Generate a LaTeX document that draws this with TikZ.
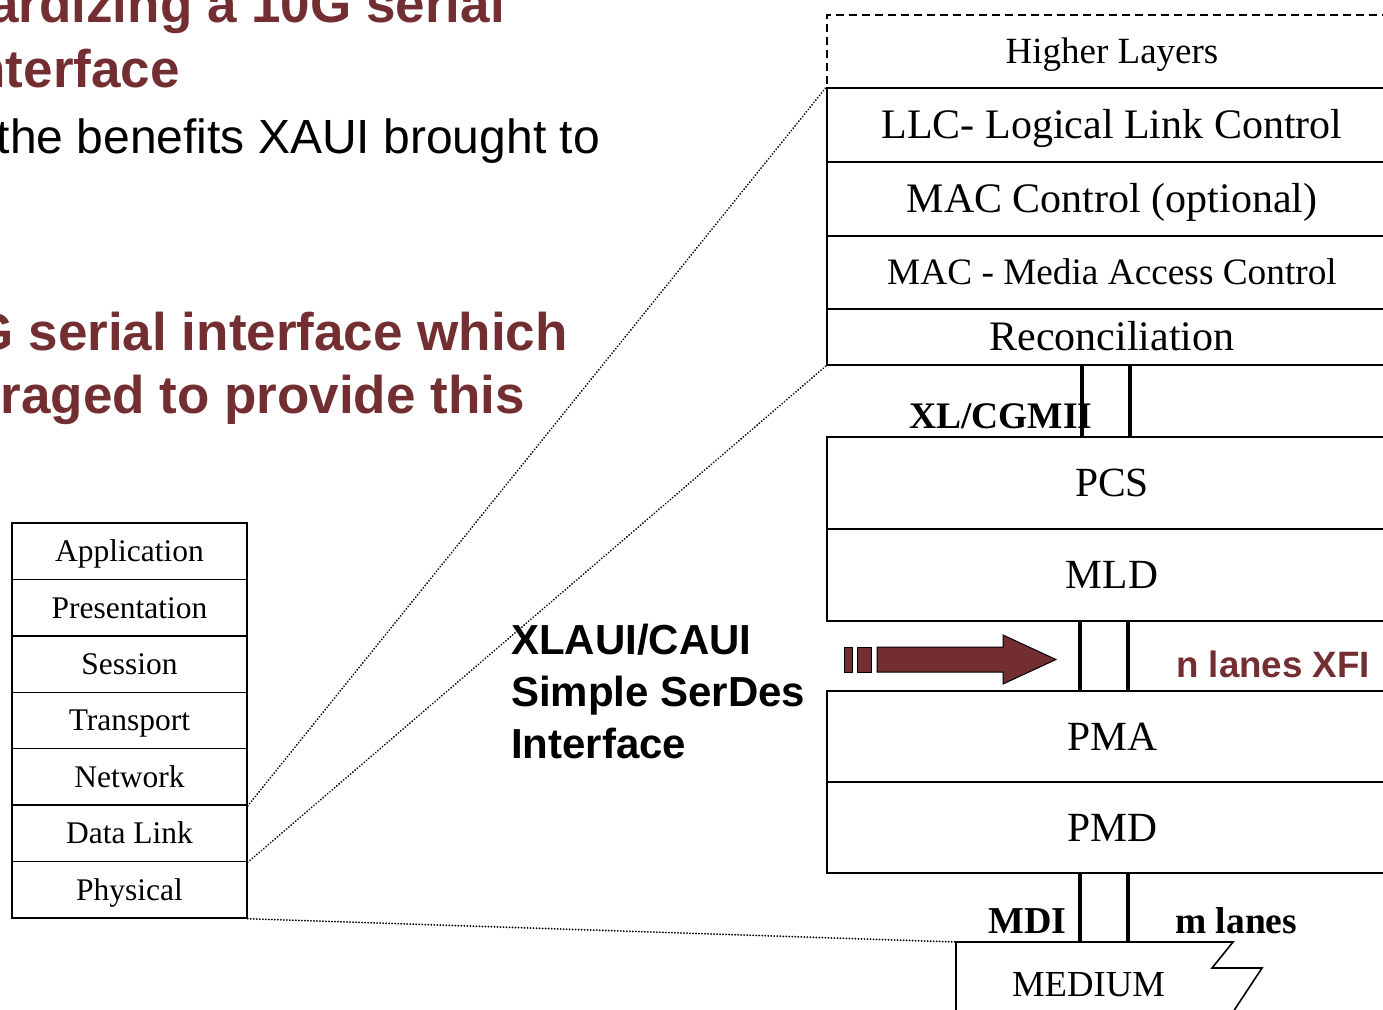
\documentclass[tikz,border=0pt]{standalone}
\usepackage{fontspec}
\setmainfont{Liberation Serif}
\setsansfont{Liberation Sans}
\newcommand\fsz[1]{\fontsize{#1}{1.2\dimexpr #1pt\relax}\selectfont}
\definecolor{maroon}{RGB}{115,46,50}
\tikzset{
  layer/.style={draw, line width=1.6pt, minimum width=570pt, inner sep=0pt,
    text height=36pt, text depth=8.4pt, font=\fsz{42}},
  small layer/.style={text height=31.8pt, text depth=7.4pt},
  osi/.style={draw, line width=1.5pt, minimum width=235pt, minimum height=56.4pt, inner sep=0pt,
    text height=27.1pt, text depth=6.3pt, font=\fsz{31.5}},
  lane/.style={line width=4.5pt},
  link/.style={line width=2pt, dash pattern=on 0.01pt off 3pt, line cap=round},
  title/.style={anchor=base east, inner sep=0pt, text=maroon, font=\sffamily\bfseries\fsz{53}},
  tag/.style={anchor=base west, inner sep=0pt, font=\bfseries\fsz{37.5}},
}
\begin{document}
\begin{tikzpicture}[x=1pt,y=-1pt]
\useasboundingbox (0,0) rectangle (1383,1009);

% slide text
\node[title] (t1) at (505,22) {ardizing a 10G serial};
\node[title] (t2) at (180,87) {nterface};
\node[anchor=base east, inner sep=0pt, font=\sffamily\fsz{48}] (t3) at (600,153) {the benefits XAUI brought to};
\node[title] (t4) at (568,350) {G serial interface which};
\node[title] (t5) at (525,413) {raged to provide this};

% OSI reference model
\foreach \n/\t [count=\i from 0] in {app/Application,pre/Presentation,ses/Session,tra/Transport,net/Network,dl/Data Link,phy/Physical}
  \node[osi] (osi-\n) at (129.5,551.2+56.43*\i) {\t};

% IEEE 802.3 sublayers
\node[layer, small layer, dash pattern=on 8pt off 5pt, minimum height=73pt, font=\fsz{37}] (hl) at (1112,51.5) {Higher Layers};
\node[layer, minimum height=74pt] (llc) at (1112,125) {LLC- Logical Link Control};
\node[layer, minimum height=74pt] (macc) at (1112,199) {MAC Control (optional)};
\node[layer, small layer, minimum height=73pt, font=\fsz{37.3}] (mac) at (1112,272.5) {MAC - Media Access Control};
\node[layer, minimum height=56pt] (rec) at (1112,337) {Reconciliation};
\node[layer, minimum height=92pt, font=\fsz{41.5}] (pcs) at (1112,483) {PCS};
\node[layer, minimum height=92pt, font=\fsz{41.5}] (mld) at (1112,575) {MLD};
\node[layer, minimum height=91pt, font=\fsz{41.5}] (pma) at (1112,736.5) {PMA};
\node[layer, minimum height=91pt, font=\fsz{41.5}] (pmd) at (1112,827.5) {PMD};

% medium with broken edge
\coordinate (med) at (956,942);
\draw[line width=1.6pt] (956,1015) -- (med) -- (1233,942) -- (1212,968) -- (1262,968) -- (1231,1015);
\node[font=\fsz{36.7}, anchor=base, inner sep=0pt] (medium) at (1088.5,996) {MEDIUM};

% interface lanes
\coordinate (la) at (1082,0);
\coordinate (lb) at (1130,0);
\coordinate (lc) at (1080,0);
\coordinate (ld) at (1128,0);
\draw[lane] (rec.south -| la) -- (pcs.north -| la);
\draw[lane] (rec.south -| lb) -- (pcs.north -| lb);
\draw[lane] (mld.south -| lc) -- (pma.north -| lc);
\draw[lane] (mld.south -| ld) -- (pma.north -| ld);
\draw[lane] (pmd.south -| lc) -- (med -| lc);
\draw[lane] (pmd.south -| ld) -- (med -| ld);

% interface labels
\node[tag] (xlgmii) at (909,428) {XL/CGMII};
\node[tag, font=\bfseries\fsz{38}] (mdi) at (988,933) {MDI};
\node[tag] (mlanes) at (1175,933) {m lanes};
\node[anchor=base west, inner sep=0pt, text=maroon, font=\sffamily\bfseries\fsz{36.7}] (xfi) at (1176,677) {n lanes XFI};
\node[anchor=base west, inner sep=0pt, align=left, font=\sffamily\bfseries\fontsize{42}{52}\selectfont] (caui) at (511,758)
  {XLAUI/CAUI\\Simple SerDes\\Interface};

% block arrow
\begin{scope}[fill=maroon, draw=black, line width=1pt]
  \filldraw (844,647) rectangle (852,672);
  \filldraw (857,647) rectangle (871,672);
  \filldraw (877,647) -- (1003,647) -- (1003,635) -- (1056,659.5) -- (1003,684) -- (1003,672) -- (877,672) -- cycle;
\end{scope}

% zoom lines
\draw[link] (osi-net.south east) -- (llc.north west);
\draw[link] (osi-dl.south east) -- (rec.south west);
\draw[link] (osi-phy.south east) -- (med);
\end{tikzpicture}
\end{document}
